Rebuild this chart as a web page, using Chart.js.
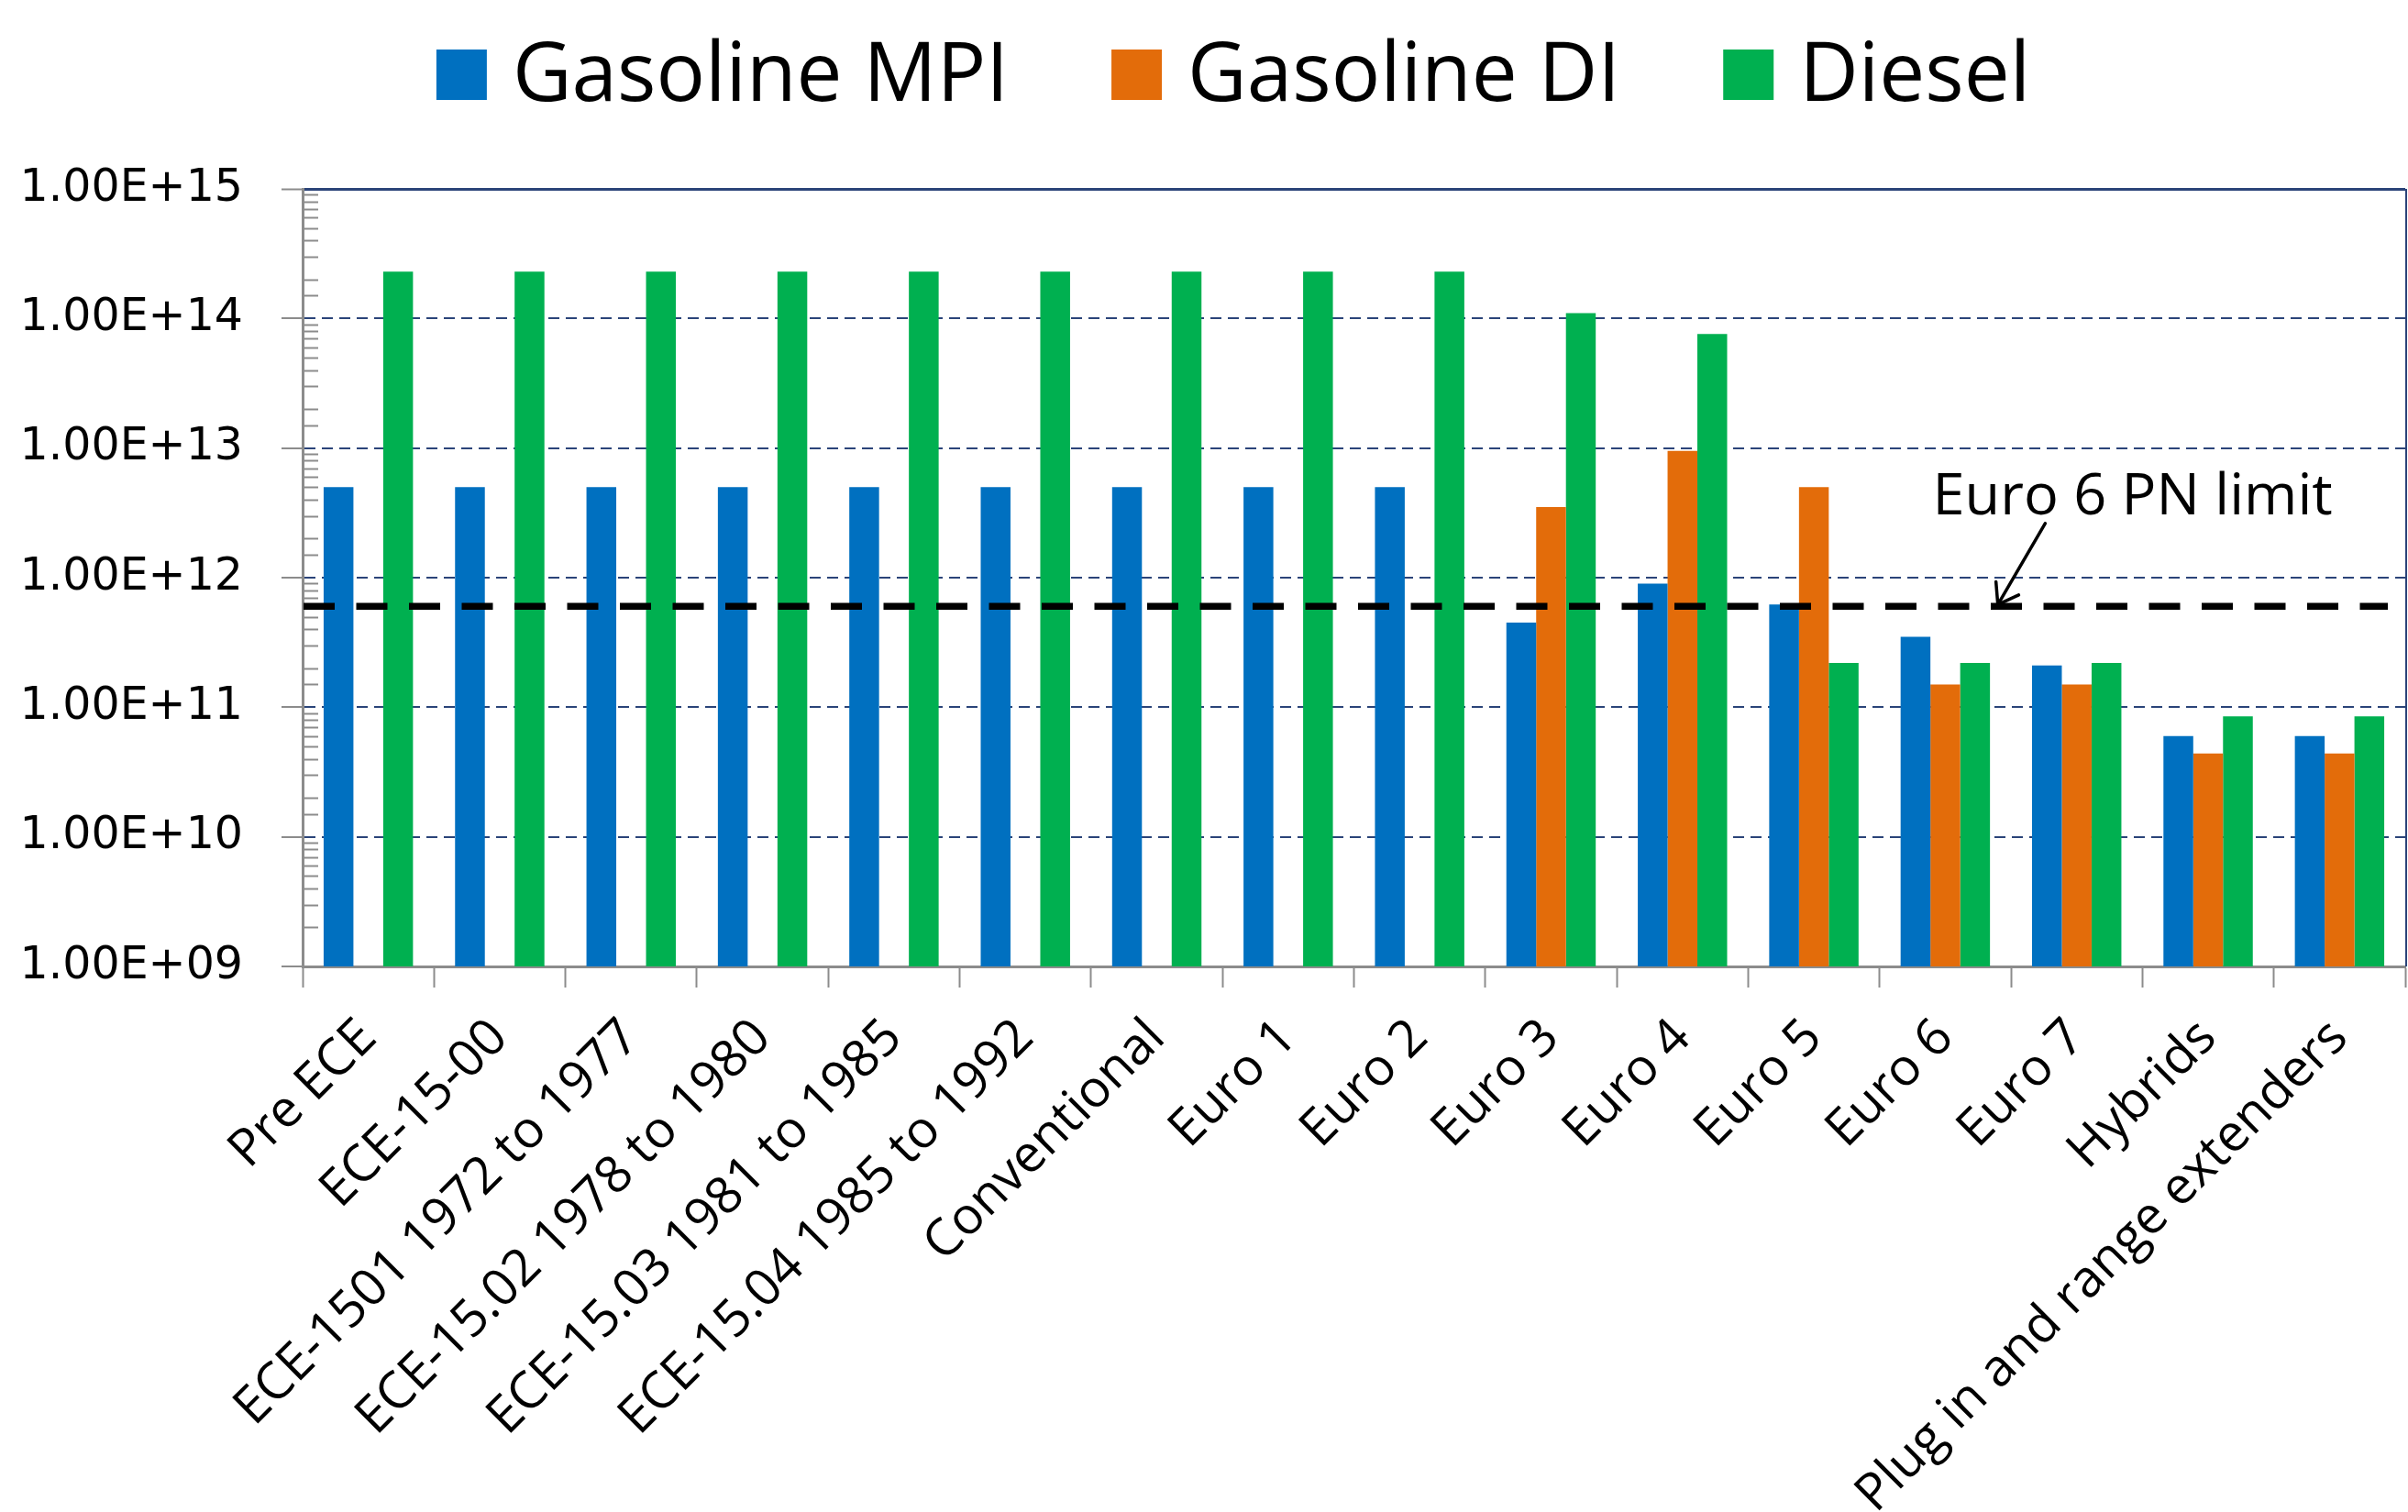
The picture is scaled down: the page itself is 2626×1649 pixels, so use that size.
<!DOCTYPE html>
<html>
<head>
<meta charset="utf-8">
<script src="https://cdn.jsdelivr.net/npm/chart.js@4.4.1/dist/chart.umd.min.js"></script>
<style>
  html, body { margin: 0; padding: 0; background: #ffffff; }
  canvas { display: block; }
</style>
</head>
<body>
<canvas id="chart" width="2626" height="1649"></canvas>
<script>
// ---------------- DATA ----------------
const categories = [
  'Pre ECE', 'ECE-15-00', 'ECE-1501 1972 to 1977', 'ECE-15.02 1978 to 1980',
  'ECE-15.03 1981 to 1985', 'ECE-15.04 1985 to 1992', 'Conventional',
  'Euro 1', 'Euro 2', 'Euro 3', 'Euro 4', 'Euro 5', 'Euro 6', 'Euro 7',
  'Hybrids', 'Plug in and range extenders'
];
const seriesNames = ['Gasoline MPI', 'Gasoline DI', 'Diesel'];
const gasolineMPI = [5e12, 5e12, 5e12, 5e12, 5e12, 5e12, 5e12, 5e12, 5e12,
                     4.5e11, 9e11, 6.2e11, 3.5e11, 2.1e11, 6e10, 6e10];
const gasolineDI  = [null, null, null, null, null, null, null, null, null,
                     3.5e12, 9.5e12, 5e12, 1.5e11, 1.5e11, 4.4e10, 4.4e10];
const diesel      = [2.3e14, 2.3e14, 2.3e14, 2.3e14, 2.3e14, 2.3e14, 2.3e14, 2.3e14, 2.3e14,
                     1.1e14, 7.6e13, 2.2e11, 2.2e11, 2.2e11, 8.5e10, 8.5e10];
const yTickLabels = ['1.00E+09', '1.00E+10', '1.00E+11', '1.00E+12', '1.00E+13', '1.00E+14', '1.00E+15'];
const yMin = 1e9, yMax = 1e15;
const euro6Limit = 6e11;
const limitLabel = 'Euro 6 PN limit';
// annotation anchors in data units (category index, value)
const labelAnchor = { x: 13.425, y: 3.1e12 };
const arrowTail = { x: 12.76, y: 2.62e12 };
const arrowTip  = { x: 12.40, y: 6.2e11 };

// ---------------- STYLE ----------------
const COLORS = ['#0070C0', '#E36C0A', '#00B050'];
const NAVY = '#2B4479';
const GRAY = '#8C8C8C';
const TEXT_FONT = '"Open Sans", "Noto Sans", sans-serif';

function logInfo(v) {
  const e = Math.log10(v);
  const k = Math.round(e);
  return { major: Math.abs(e - k) < 1e-6, k };
}

const customLegend = {
  id: 'customLegend',
  afterDraw(chart, args, opts) {
    const ctx = chart.ctx;
    ctx.save();
    ctx.font = opts.font;
    ctx.textBaseline = 'alphabetic';
    ctx.textAlign = 'left';
    const items = chart.data.datasets.map(d => ({ label: d.label, color: d.backgroundColor, w: ctx.measureText(d.label).width }));
    const total = items.reduce((s, it) => s + opts.box + opts.gap + it.w, 0) + opts.spacing * (items.length - 1);
    let x = opts.centerX - total / 2;
    items.forEach(it => {
      ctx.fillStyle = it.color;
      ctx.fillRect(x, opts.centerY - opts.box / 2, opts.box, opts.box);
      x += opts.box + opts.gap;
      ctx.fillStyle = '#000000';
      ctx.fillText(it.label, x, opts.baseline);
      x += it.w + opts.spacing;
    });
    ctx.restore();
  }
};

const axisExtras = {
  id: 'axisExtras',
  beforeDatasetsDraw(chart) {
    const { ctx, chartArea, scales } = chart;
    const y = scales.y;
    ctx.save();
    // minor log ticks on the inside of the value axis
    ctx.strokeStyle = GRAY;
    ctx.lineWidth = 2;
    y.ticks.forEach(t => {
      if (logInfo(t.value).major) return;
      const py = Math.round(y.getPixelForValue(t.value)) + 0.5;
      ctx.beginPath();
      ctx.moveTo(chartArea.left, py);
      ctx.lineTo(chartArea.left + 17, py);
      ctx.stroke();
    });
    // plot-area right border
    ctx.strokeStyle = NAVY;
    ctx.lineWidth = 2;
    ctx.beginPath();
    ctx.moveTo(chartArea.right + 1, chartArea.top);
    ctx.lineTo(chartArea.right + 1, chartArea.bottom);
    ctx.stroke();
    ctx.restore();
  },
  afterDatasetsDraw(chart) {
    const { ctx, chartArea, scales } = chart;
    const x = scales.x, y = scales.y;
    ctx.save();
    // Euro 6 limit dashed line
    const ly = y.getPixelForValue(euro6Limit);
    ctx.strokeStyle = '#000000';
    ctx.lineWidth = 7.5;
    ctx.setLineDash([34, 23.5]);
    ctx.beginPath();
    ctx.moveTo(chartArea.left + 1, ly);
    ctx.lineTo(chartArea.right - 19, ly);
    ctx.stroke();
    ctx.setLineDash([]);
    // arrow
    const tx = x.getPixelForValue(arrowTail.x), ty = y.getPixelForValue(arrowTail.y);
    const hx = x.getPixelForValue(arrowTip.x), hy = y.getPixelForValue(arrowTip.y);
    ctx.lineWidth = 3.5;
    ctx.lineCap = 'round';
    ctx.beginPath();
    ctx.moveTo(tx, ty);
    ctx.lineTo(hx, hy);
    ctx.stroke();
    const ang = Math.atan2(ty - hy, tx - hx);
    const hl = 25, spread = 35 * Math.PI / 180;
    ctx.beginPath();
    ctx.moveTo(hx + hl * Math.cos(ang - spread), hy + hl * Math.sin(ang - spread));
    ctx.lineTo(hx, hy);
    ctx.lineTo(hx + hl * Math.cos(ang + spread), hy + hl * Math.sin(ang + spread));
    ctx.stroke();
    // label
    ctx.fillStyle = '#000000';
    ctx.font = '63px ' + TEXT_FONT;
    ctx.textAlign = 'center';
    ctx.textBaseline = 'alphabetic';
    ctx.fillText(limitLabel, x.getPixelForValue(labelAnchor.x), y.getPixelForValue(labelAnchor.y));
    ctx.restore();
  }
};

const datasets = [gasolineMPI, gasolineDI, diesel].map((vals, i) => ({
  label: seriesNames[i],
  data: vals,
  backgroundColor: COLORS[i],
  borderWidth: 0,
  categoryPercentage: 0.68,
  barPercentage: 1.0
}));

new Chart(document.getElementById('chart'), {
  type: 'bar',
  data: { labels: categories, datasets },
  plugins: [customLegend, axisExtras],
  options: {
    responsive: false,
    devicePixelRatio: 1,
    animation: false,
    layout: { padding: { top: 206, right: 3, left: 0, bottom: 0 } },
    plugins: {
      legend: { display: false },
      tooltip: { enabled: false },
      customLegend: { centerX: 1345, centerY: 81.5, baseline: 110, box: 55, gap: 28, spacing: 112, font: '89px ' + TEXT_FONT }
    },
    scales: {
      x: {
        afterFit(s) { s.height = 595; },
        ticks: {
          autoSkip: false, minRotation: 45, maxRotation: 45, padding: 22,
          color: '#000000', font: { family: TEXT_FONT, size: 56 }
        },
        grid: { offset: true, drawOnChartArea: false, drawTicks: true, tickLength: 23, tickWidth: 2, tickColor: GRAY, color: GRAY },
        border: { color: GRAY, width: 3 }
      },
      y: {
        type: 'logarithmic',
        min: yMin, max: yMax,
        afterFit(s) { s.width = 330; },
        ticks: {
          autoSkip: false, padding: 42, color: '#000000',
          font: { family: '"DejaVu Sans", sans-serif', size: 49 },
          callback(v) { const li = logInfo(v); return li.major ? yTickLabels[li.k - 9] : ''; }
        },
        grid: {
          drawTicks: true, tickLength: 23, tickWidth: 2,
          color: c => {
            if (!c.tick) return 'transparent';
            const li = logInfo(c.tick.value);
            return (li.major && c.tick.value > yMin * 1.5) ? NAVY : 'transparent';
          },
          lineWidth: c => (c.tick && c.tick.value > yMax * 0.99) ? 3 : 2,
          tickColor: c => (c.tick && logInfo(c.tick.value).major) ? GRAY : 'transparent'
        },
        border: {
          color: GRAY, width: 3,
          dash: c => (c.tick && c.tick.value > yMax * 0.99) ? [] : [12, 7]
        }
      }
    }
  }
});
</script>
</body>
</html>
